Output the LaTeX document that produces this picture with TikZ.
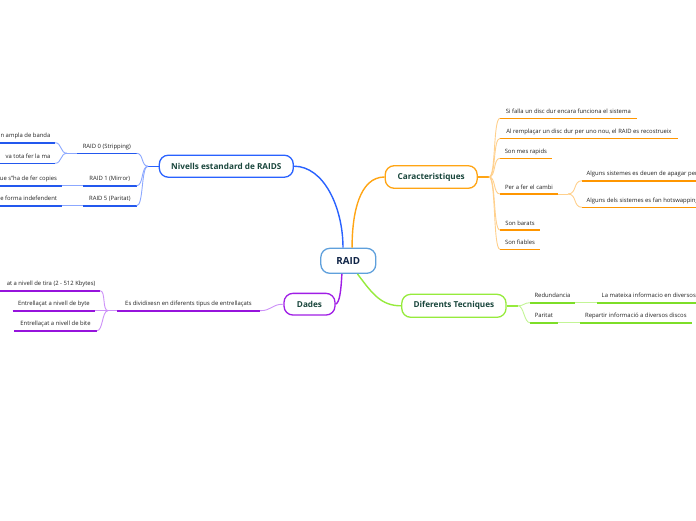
\documentclass[tikz,border=0pt]{standalone}
\usepackage{fontspec}
\setmainfont{Open Sans}
\definecolor{cblue}{RGB}{41,98,255}
\definecolor{cblueu}{RGB}{35,88,238}
\definecolor{cbluel}{RGB}{140,168,255}
\definecolor{corange}{RGB}{255,165,20}
\definecolor{corangeu}{RGB}{255,150,0}
\definecolor{corangel}{RGB}{255,208,140}
\definecolor{cpurple}{RGB}{160,30,230}
\definecolor{cpurpleu}{RGB}{150,20,220}
\definecolor{cpurplel}{RGB}{205,145,248}
\definecolor{cgreen}{RGB}{150,235,60}
\definecolor{cgreenu}{RGB}{125,222,40}
\definecolor{cgreenl}{RGB}{195,245,150}
\definecolor{craid}{RGB}{95,160,220}
\definecolor{craidtext}{RGB}{15,35,70}
\definecolor{ctext}{RGB}{25,70,60}
\definecolor{cleaf}{RGB}{35,35,35}
% leaf with text centred over its underline
\newcommand\leafC[6]{%
  \coordinate (#1-l) at (#2,#4);
  \coordinate (#1-r) at (#3,#4);
  \draw[ul,#5] (#1-l) -- (#1-r);
  \node[leaf,anchor=base] (#1) at ({(#2+#3)/2},{#4-5}) {#6};}
% leaf with text starting at the left end
\newcommand\leafW[6]{%
  \coordinate (#1-l) at (#2,#4);
  \coordinate (#1-r) at (#3,#4);
  \draw[ul,#5] (#1-l) -- (#1-r);
  \node[leaf,anchor=base west] (#1) at ({#2+4.5},{#4-5}) {#6};}
% leaf with text ending at the right end
\newcommand\leafE[6]{%
  \coordinate (#1-l) at (#2,#4);
  \coordinate (#1-r) at (#3,#4);
  \draw[ul,#5] (#1-l) -- (#1-r);
  \node[leaf,anchor=base east] (#1) at ({#3-4.5},{#4-5}) {#6};}
\begin{document}
\begin{tikzpicture}[x=1pt,y=-1pt,
  topic/.style={draw, rounded corners=9pt, fill=white, line width=1.3pt, inner sep=0pt,
    text=ctext, font=\bfseries\fontsize{8.2}{9}\selectfont},
  leaf/.style={inner sep=0pt, text=cleaf, font=\fontsize{5.9}{7}\selectfont},
  ul/.style={line width=1.6pt},
  cl/.style={line width=0.9pt},
  sl/.style={line width=1.4pt},
  mc/.style={line width=1.4pt}]
\useasboundingbox (0,0) rectangle (696,520);
\fill[white] (0,0) rectangle (696,520);
\clip (0,0) rectangle (696,520);

% ---------- main topics ----------
\node[topic, draw=craid, text=craidtext, minimum width=55pt, minimum height=25pt,
  font=\bfseries\fontsize{9.8}{11}\selectfont] (raid) at (348.3,260.8) {RAID};
\node[topic, draw=cblue, minimum width=134pt, minimum height=22pt] (niv) at (226.3,166.2) {Nivells estandard de RAIDS};
\node[topic, draw=corange, minimum width=92pt, minimum height=22.6pt] (car) at (431.2,177) {Caracteristiques};
\node[topic, draw=cpurple, minimum width=51pt, minimum height=21.7pt] (dad) at (309.5,304.2) {Dades};
\node[topic, draw=cgreen, minimum width=104.3pt, minimum height=23pt] (dif) at (453.9,305.8) {Diferents Tecniques};

\draw[mc,cblue] (niv.east) .. controls +(30,0) and +(0,-40) .. (raid.112);
\draw[mc,corange] (raid.74) .. controls +(0,-35) and +(-25,0) .. (car.west);
\draw[mc,cpurple] (raid.244) .. controls +(-1,18) and +(4,-2) .. (dad.east);
\draw[mc,cgreen] (raid.305) .. controls +(15,20) and +(-20,0) .. (dif.west);

% ---------- Caracteristiques ----------
\leafC{c1}{500}{636.7}{118.3}{corangeu}{Si falla un disc dur encara funciona el sistema}
\leafC{c2}{500}{678}{138.3}{corangeu}{Al remplaçar un disc dur per uno nou, el RAID es recostrueix}
\leafC{c3}{500}{551.7}{158.3}{corangeu}{Son mes rapids}
\leafC{c4}{500}{558}{194}{corangeu}{Per a fer el cambi}
\leafC{c5}{500}{540}{230}{corangeu}{Son barats}
\leafC{c6}{500}{540}{249.3}{corangeu}{Son fiables}
\leafW{c41}{582}{700}{180.7}{corangeu}{Alguns sistemes es deuen de apagar per}
\leafW{c42}{582}{700}{207.3}{corangeu}{Alguns dels sistemes es fan hotswapping}
\coordinate (cj) at (489,177);
\draw[sl,corange] (car.east) -- (cj);
\foreach \n in {c1,c2,c3,c4,c5,c6}
  \draw[cl,corangel] (cj) .. controls +(7,0) and +(-7,0) .. (\n-l);
\coordinate (c4j) at (568,194);
\draw[cl,corangel] (c4-r) -- (c4j);
\foreach \n in {c41,c42}
  \draw[cl,corangel] (c4j) .. controls +(9,0) and +(-9,0) .. (\n-l);

% ---------- Nivells estandard de RAIDS ----------
\leafC{n1}{77}{136.7}{153.3}{cblueu}{RAID 0 (Stripping)}
\leafE{n11}{-5}{55}{142.7}{cblueu}{n ampla de banda}
\leafE{n12}{-5}{55}{163.3}{cblueu}{va tota fer la ma}
\leafC{n2}{83}{136.7}{185.7}{cblueu}{RAID 1 (Mirror)}
\leafE{n21}{-5}{61.7}{185.7}{cblueu}{ue s"ha de fer copies}
\leafC{n3}{83}{136.7}{205.7}{cblueu}{RAID 5 (Paritat)}
\leafE{n31}{-5}{61.7}{205.7}{cblueu}{e forma indefendent}
\coordinate (nj) at (148,166.2);
\draw[sl,cblue] (niv.west) -- (nj);
\foreach \n in {n1,n2,n3}
  \draw[cl,cbluel] (nj) .. controls +(-7,0) and +(7,0) .. (\n-r);
\coordinate (n1j) at (67,153.3);
\draw[cl,cbluel] (n1-l) -- (n1j);
\foreach \n in {n11,n12}
  \draw[cl,cbluel] (n1j) .. controls +(-7,0) and +(7,0) .. (\n-r);
\draw[sl,cbluel] (n21-r) -- (n2-l);
\draw[sl,cbluel] (n31-r) -- (n3-l);

% ---------- Dades ----------
\leafC{d1}{117}{260}{310.7}{cpurpleu}{Es dividixesn en diferents tipus de entrellaçats}
\leafE{d11}{-5}{100}{290.7}{cpurpleu}{at a nivell de tira (2 - 512 Kbytes)}
\leafC{d12}{12.7}{95}{310.7}{cpurpleu}{Entrellaçat a nivell de byte}
\leafC{d13}{14}{97}{330.7}{cpurpleu}{Entrellaçat a nivell de bite}
\draw[cl,cpurplel] (dad.west) .. controls +(-12,0) and +(12,0) .. (d1-r);
\coordinate (dj) at (108,310.7);
\draw[cl,cpurplel] (d1-l) -- (dj);
\foreach \n in {d11,d13}
  \draw[cl,cpurplel] (dj) .. controls +(-6,0) and +(6,0) .. (\n-r);
\draw[sl,cpurplel] (d12-r) -- (dj);

% ---------- Diferents Tecniques ----------
\leafC{t1}{530}{575}{302.7}{cgreenu}{Redundancia}
\leafW{t11}{597}{700}{302.7}{cgreenu}{La mateixa informacio en diversos}
\leafC{t2}{530}{557.7}{322.7}{cgreenu}{Paritat}
\leafC{t21}{580}{691.7}{322.7}{cgreenu}{Repartir informació a diversos discos}
\coordinate (tj) at (518,305.8);
\draw[sl,cgreen] (dif.east) -- (tj);
\foreach \n in {t1,t2}
  \draw[cl,cgreenl] (tj) .. controls +(6,0) and +(-6,0) .. (\n-l);
\draw[sl,cgreenl] (t1-r) -- (t11-l);
\draw[sl,cgreenl] (t2-r) -- (t21-l);
\end{tikzpicture}
\end{document}
